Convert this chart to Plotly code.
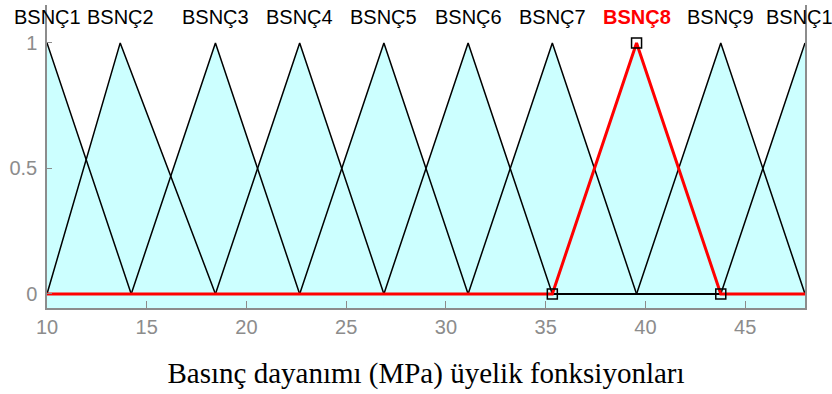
import plotly.graph_objects as go

# ---- data ----
mf_names = ["BSNÇ1", "BSNÇ2", "BSNÇ3", "BSNÇ4", "BSNÇ5", "BSNÇ6", "BSNÇ7", "BSNÇ8", "BSNÇ9", "BSNÇ10"]
mf_a = [5.778, 10.0, 14.222, 18.444, 22.667, 26.889, 31.111, 35.333, 39.556, 43.778]
mf_b = [10.0, 13.67, 18.444, 22.667, 26.889, 31.111, 35.333, 39.556, 43.778, 48.0]
mf_c = [14.222, 18.444, 22.667, 26.889, 31.111, 35.333, 39.556, 43.778, 48.0, 52.222]
x_range = [10, 48]
selected = 7
x_ticks = [10, 15, 20, 25, 30, 35, 40, 45]
y_ticks = [0, 0.5, 1]
y_tick_text = ["0", "0.5", "1"]
x_title = "Basınç dayanımı (MPa) üyelik fonksiyonları"

YMIN, YMAX = -0.056, 1.151
CYAN = "#CCFFFF"
GRAY = "#8c8c8c"


def trimf(x, a, b, c):
    if x <= a or x >= c:
        return 1.0 if x == b else 0.0
    if x <= b:
        return (x - a) / (b - a) if b != a else 1.0
    return (c - x) / (c - b) if c != b else 1.0


def mf_curve(a, b, c):
    pts = sorted(set([x_range[0], x_range[1]] + [p for p in (a, b, c) if x_range[0] <= p <= x_range[1]]))
    return pts, [trimf(p, a, b, c) for p in pts]


fig = go.Figure()

# fills
for a, b, c in zip(mf_a, mf_b, mf_c):
    lo, hi = max(a, x_range[0]), min(c, x_range[1])
    xs, ys = mf_curve(a, b, c)
    px = [lo] + [p for p in xs if lo <= p <= hi] + [hi]
    py = [YMIN] + [trimf(p, a, b, c) for p in xs if lo <= p <= hi] + [YMIN]
    fig.add_trace(go.Scatter(x=px, y=py, fill="toself", fillcolor=CYAN, mode="none",
                             hoverinfo="skip", showlegend=False))

# lines
for i, (a, b, c) in enumerate(zip(mf_a, mf_b, mf_c)):
    if i == selected:
        continue
    xs, ys = mf_curve(a, b, c)
    fig.add_trace(go.Scatter(x=xs, y=ys, mode="lines", line=dict(color="black", width=1.5),
                             showlegend=False, cliponaxis=False))

a, b, c = mf_a[selected], mf_b[selected], mf_c[selected]
xs, ys = mf_curve(a, b, c)
fig.add_trace(go.Scatter(x=xs, y=ys, mode="lines", line=dict(color="red", width=3),
                         showlegend=False))
fig.add_trace(go.Scatter(x=[a, b, c], y=[trimf(a, a, b, c), trimf(b, a, b, c), trimf(c, a, b, c)],
                         mode="markers",
                         marker=dict(symbol="square-open", size=10, color="black", line=dict(width=1.5)),
                         showlegend=False, cliponaxis=False))

# labels
for i, (name, b) in enumerate(zip(mf_names, mf_b)):
    fig.add_annotation(x=b, y=1.104, text=("<b>%s</b>" % name) if i == selected else name,
                       showarrow=False, xanchor="center", yanchor="middle",
                       font=dict(family="Liberation Sans, Arial", size=20,
                                 color="red" if i == selected else "black"))

fig.update_layout(
    width=832, height=394,
    margin=dict(l=47, r=27, t=5, b=86),
    paper_bgcolor="white", plot_bgcolor="white",
    xaxis=dict(range=x_range, tickvals=x_ticks, ticks="inside", ticklen=7, tickcolor=GRAY,
               showline=True, linecolor=GRAY, linewidth=1.5, showgrid=False, zeroline=False,
               tickfont=dict(family="Liberation Sans, Arial", size=20, color=GRAY),
               title=dict(text=x_title, standoff=26,
                          font=dict(family="Liberation Serif, Times New Roman", size=29, color="black"))),
    yaxis=dict(range=[YMIN, YMAX], tickvals=y_ticks, ticktext=y_tick_text, ticks="inside", ticklen=5,
               tickcolor=GRAY, showline=True, mirror=True, linecolor=GRAY, linewidth=1.5,
               showgrid=False, zeroline=False, ticklabelstandoff=4,
               tickfont=dict(family="Liberation Sans, Arial", size=20, color=GRAY)),
)

fig.write_html("out.html")
